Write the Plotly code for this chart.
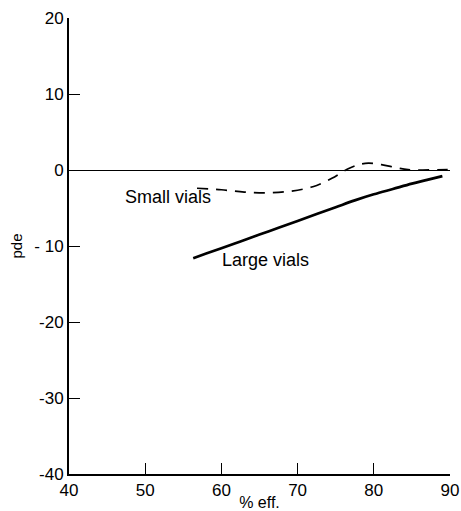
import plotly.graph_objects as go

# Data
large_x = [56.3, 58, 60, 62.5, 65, 67.5, 70, 72.5, 75, 77.5, 80, 82.5, 85, 87, 89]
large_y = [-11.6, -11.0, -10.3, -9.4, -8.5, -7.6, -6.7, -5.8, -4.9, -4.0, -3.2, -2.5, -1.8, -1.3, -0.8]

small_x = [56.8, 60, 63, 66, 69, 72, 74.5, 76.5, 78, 79.3, 81, 83, 84.5, 89.7]
small_y = [-2.4, -2.6, -2.9, -3.0, -2.8, -2.2, -1.1, 0.1, 0.7, 0.9, 0.7, 0.3, 0.05, 0.05]

x_ticks = [40, 50, 60, 70, 80, 90]
y_ticks = [20, 10, 0, -10, -20, -30, -40]
y_tick_text = ["20", "10", "0", "- 10", "-20", "-30", "-40"]

labels = [
    {"text": "Small vials", "x": 53.0, "y": -3.6},
    {"text": "Large vials", "x": 65.8, "y": -11.8},
]

FONT = "Liberation Sans, Arial, sans-serif"

fig = go.Figure()
fig.add_trace(go.Scatter(x=small_x, y=small_y, mode="lines", line=dict(color="black", width=1.7, dash="11px,8px"),
                         line_shape="spline", showlegend=False, hoverinfo="skip"))
fig.add_trace(go.Scatter(x=large_x, y=large_y, mode="lines", line=dict(color="black", width=2.7),
                         line_shape="spline", showlegend=False, hoverinfo="skip"))

for lab in labels:
    fig.add_annotation(x=lab["x"], y=lab["y"], text=lab["text"], showarrow=False,
                       font=dict(family=FONT, size=18, color="black"))

fig.update_layout(
    width=461, height=511,
    margin=dict(l=69, r=11, t=18, b=37, autoexpand=False),
    paper_bgcolor="white", plot_bgcolor="white",
    font=dict(family=FONT, size=17, color="black"),
    xaxis=dict(range=[40, 90], tickvals=x_ticks, ticks="inside", ticklen=11, tickwidth=1.2, tickcolor="black",
               showline=True, linecolor="black", linewidth=2, showgrid=False, zeroline=False,
               automargin=False,
               title=dict(text="% eff.", font=dict(size=16), standoff=3),
               tickfont=dict(size=17)),
    yaxis=dict(range=[-40, 20], tickvals=y_ticks, ticktext=y_tick_text, ticks="inside", ticklen=11, tickwidth=1.2,
               tickcolor="black", showline=True, linecolor="black", linewidth=2, showgrid=False,
               zeroline=True, zerolinecolor="black", zerolinewidth=1.2, automargin=False,
               title=dict(text="pde", font=dict(size=15), standoff=8),
               tickfont=dict(size=17)),
)

fig.write_html("out.html", config={"displayModeBar": False},
               post_script="document.body.style.margin='0px';document.body.style.overflow='hidden';")
